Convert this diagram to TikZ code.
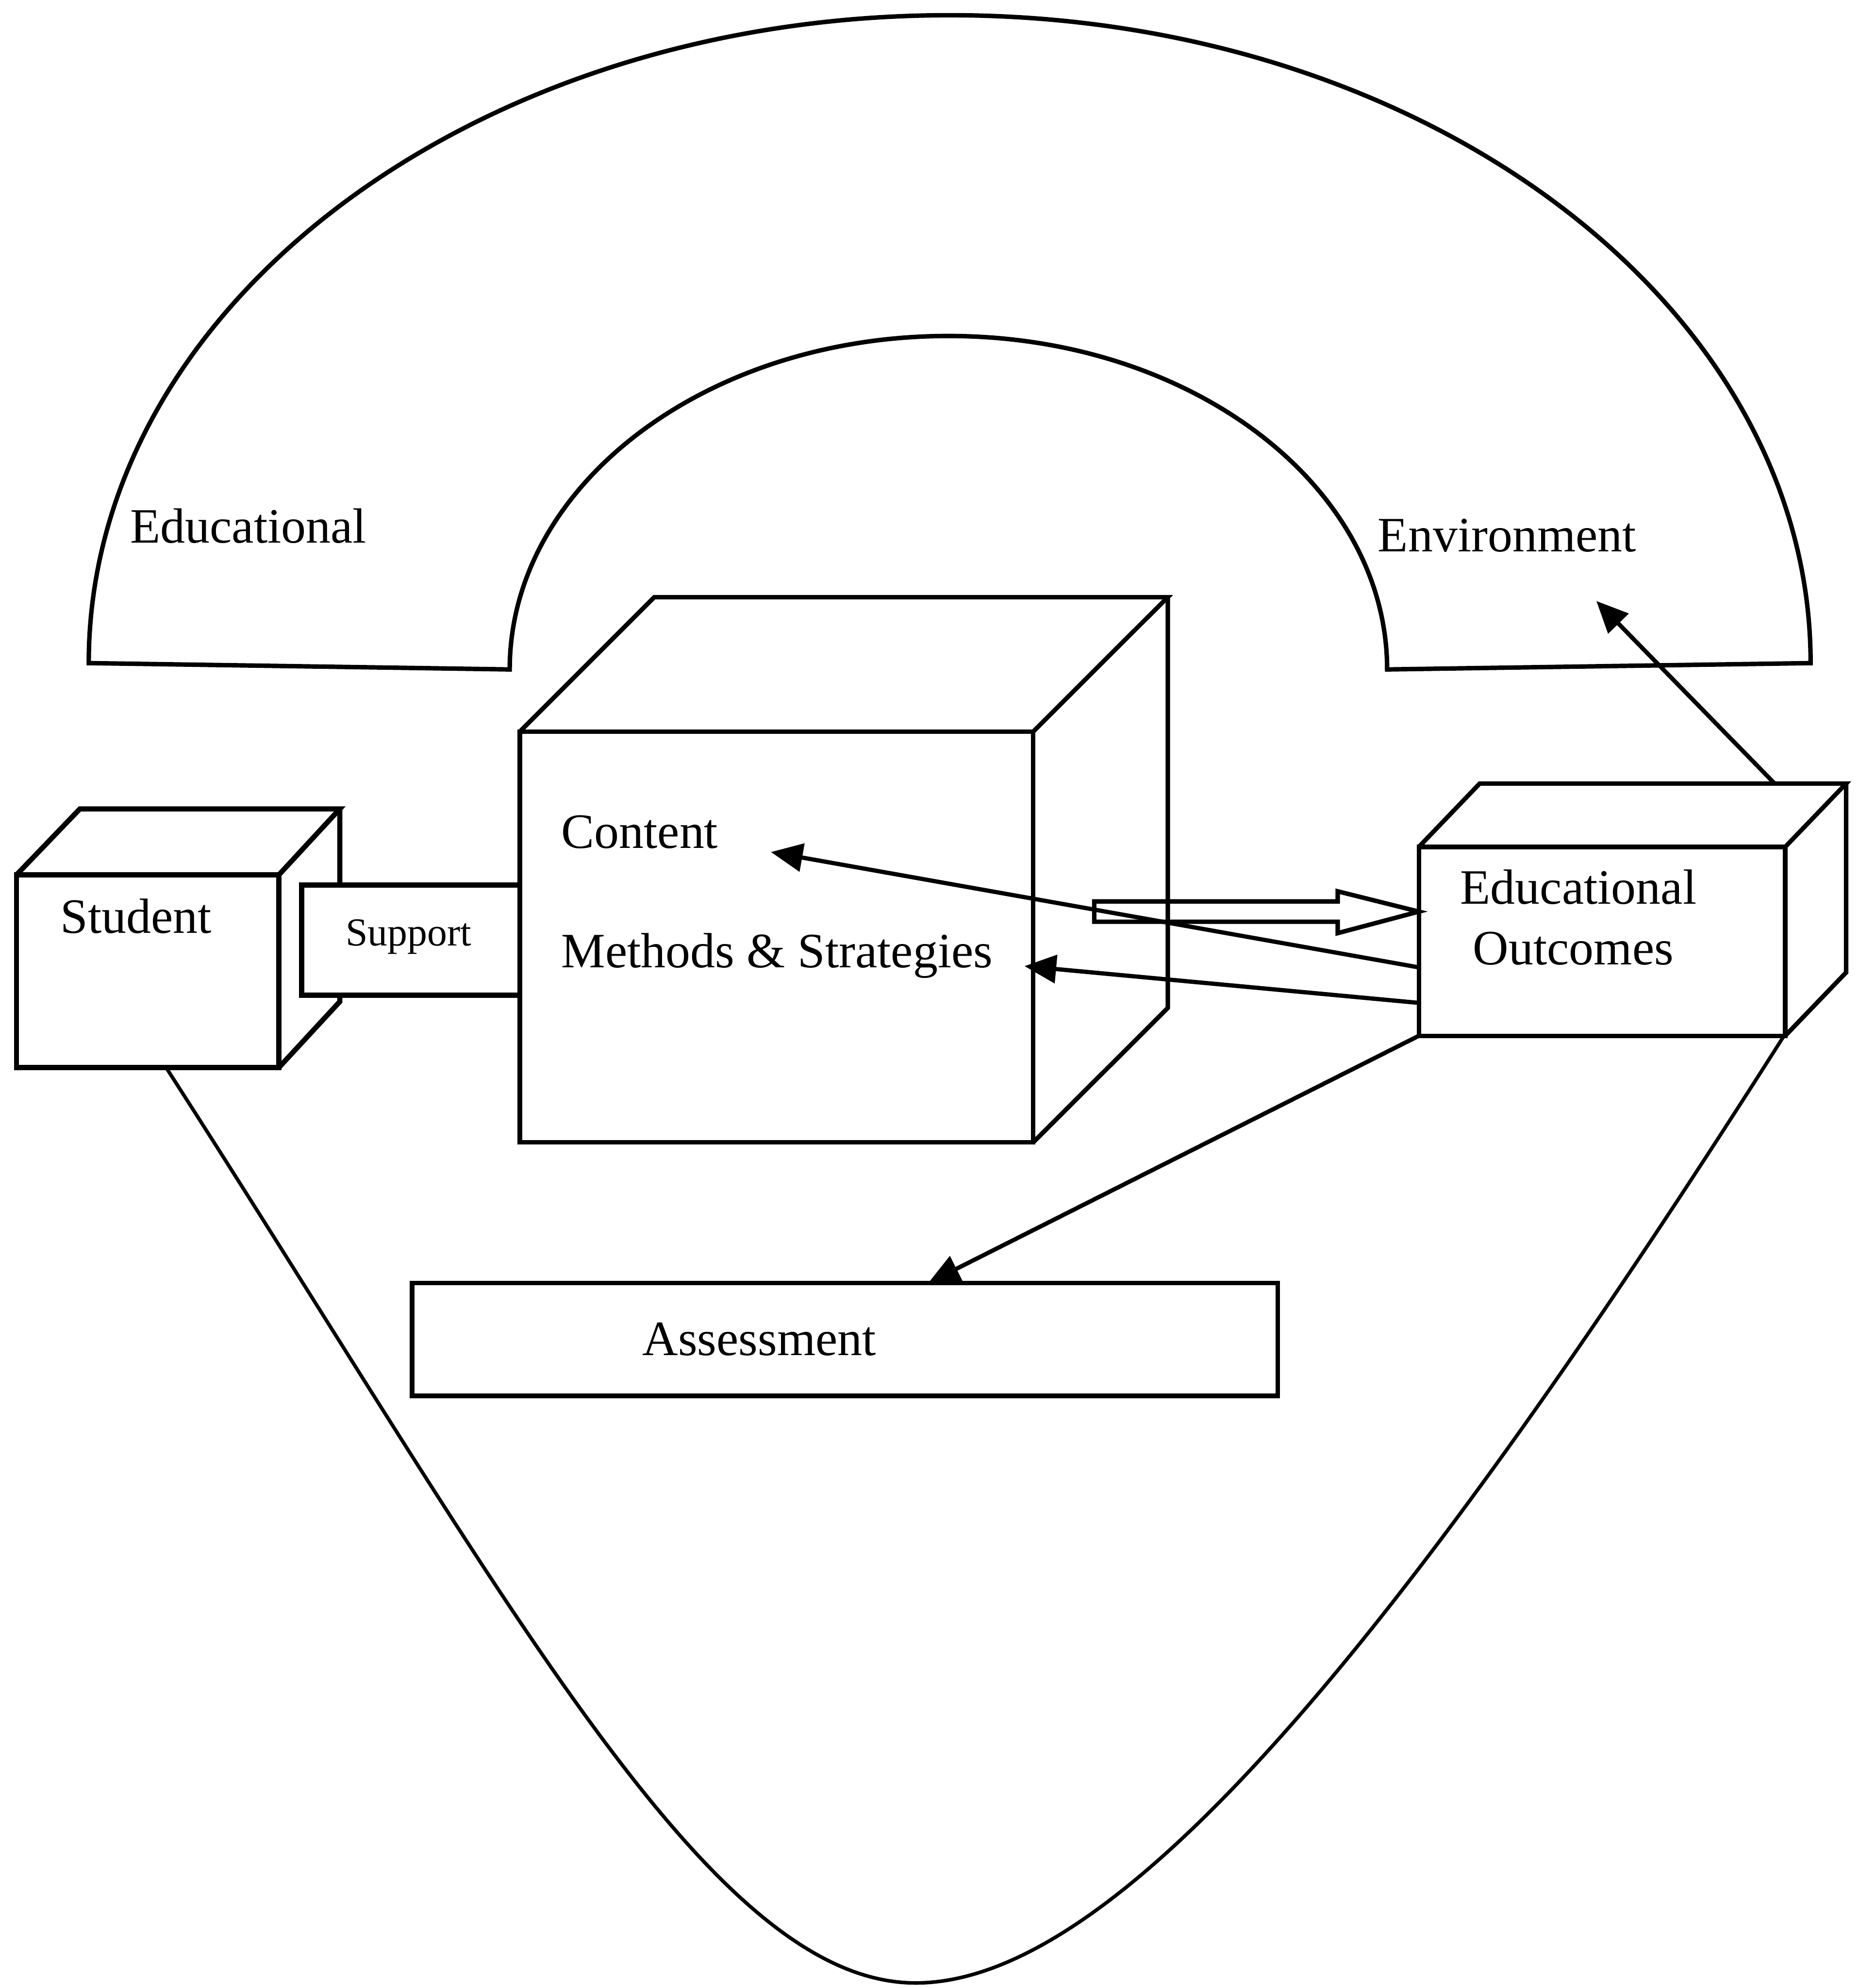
\documentclass[tikz,border=0pt]{standalone}
\usepackage{fontspec}
\setmainfont{Liberation Serif}
\usetikzlibrary{arrows.meta,calc}
\begin{document}
\begin{tikzpicture}[x=0.02cm,y=-0.02cm,
  line width=2pt, line join=miter,
  box/.style={draw, rectangle, inner sep=0pt, outer sep=0pt, anchor=north west, fill=white},
  lbl/.style={inner sep=0pt, anchor=base west, font=\fontsize{22.2}{26}\selectfont},
  smalllbl/.style={inner sep=0pt, anchor=base west, font=\fontsize{17.8}{21}\selectfont},
  arr/.style={-{Triangle[length=0.5cm,width=0.44cm]}, line width=1.9pt},
  drop/.style={line width=1.6pt},
  thickcube/.style={line width=2.3pt},
]
\useasboundingbox (0,0) rectangle (1466,1568);

% Educational environment band
\draw (70,523) arc[start angle=180, end angle=360, x radius=679, y radius=511]
  -- (1094,528) arc[start angle=0, end angle=-180, x radius=346, y radius=263] -- cycle;
\node[lbl] (t-envl) at (101,428) {Educational};
\node[lbl] (t-envr) at (1085,435) {Environment};

% teardrop outline
\coordinate (dropL) at (131,842);
\coordinate (dropB) at (723,1564);
\draw[drop] (dropL) .. controls (400,1260) and (560,1565) .. (dropB)
  .. controls (880,1563) and (1100,1300) .. (1407,817);

% Student cube
\node[box, thickcube, minimum width=4.14cm, minimum height=3.04cm] (student) at (13,690) {};
\draw[thickcube] (student.north west) -- ++(50,-52) coordinate (st-b1) -- ++(205,0) coordinate (st-b2) -- (student.north east);
\draw[thickcube] (st-b2) -- ++(0,152) -- (student.south east);
\node[lbl] (t-student) at (46,736) {Student};

% Support
\node[box, thickcube, minimum width=3.44cm, minimum height=1.74cm] (support) at (238,698) {};
\node[smalllbl] (t-support) at (271,746) {Support};

% Middle cube
\node[box, minimum width=8.1cm, minimum height=6.48cm] (mid) at (410,577) {};
\draw (mid.north west) -- ++(106,-106) coordinate (mid-b1) -- ++(405,0) coordinate (mid-b2) -- (mid.north east);
\draw (mid-b2) -- ++(0,324) -- (mid.south east);
\node[lbl] (t-content) at (441,669) {Content};
\node[lbl] (t-methods) at (441,763) {Methods \& Strategies};

% Educational Outcomes cube
\node[box, minimum width=5.78cm, minimum height=2.98cm] (oc) at (1119,668) {};
\draw (oc.north west) -- ++(48,-50) coordinate (oc-b1) -- ++(289,0) coordinate (oc-b2) -- (oc.north east);
\draw (oc-b2) -- ++(0,149) -- (oc.south east);
\node[lbl] (t-edu) at (1150,713) {Educational};
\node[lbl] (t-out) at (1160,761) {Outcomes};

% Assessment
\node[box, minimum width=13.66cm, minimum height=1.78cm] (assess) at (325,1012) {};
\node[lbl] (t-assess) at (505,1069) {Assessment};

% connectors
\coordinate (envstart) at ($(oc-b1)!0.805!(oc-b2)$);
\coordinate (envtip) at (1259,474);
\draw[arr] (envstart) -- (envtip);

\coordinate (contip) at (608,672);
\draw[arr] ($(oc.north west)+(0,95)$) -- (contip);

\coordinate (mettip) at (808,762);
\draw[arr] ($(oc.north west)+(0,123)$) -- (mettip);

\draw[arr] (oc.south west) -- ($(assess.north west)+(407,0)$);

% hollow arrow
\coordinate (htip) at ($(oc.north west)+(0,51)$);
\draw (863,711) -- (1055,711) -- (1055,703) -- (htip) -- (1055,736) -- (1055,727) -- (863,727) -- cycle;
\end{tikzpicture}
\end{document}
